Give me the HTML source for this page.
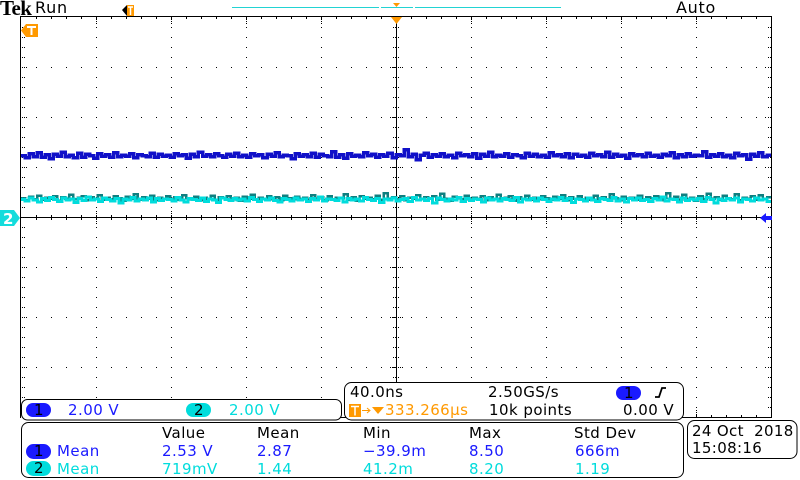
<!DOCTYPE html>
<html><head><meta charset="utf-8"><title>Oscilloscope capture</title>
<style>
html,body{margin:0;padding:0;background:#fff}
#scope{display:block}
text{font-family:"DejaVu Sans","Liberation Sans",sans-serif;font-size:15px;letter-spacing:.45px}
.k{fill:#000}.b{fill:#1a1aff}.c{fill:#00dcdc}.o{fill:#ff9900}
.p{fill:none;stroke:#000;stroke-width:1}
</style></head><body>
<svg id="scope" width="800" height="480" viewBox="0 0 800 480" xmlns="http://www.w3.org/2000/svg">
<g id="grid" shape-rendering="crispEdges"></g>
<g id="traces" shape-rendering="crispEdges"></g>
<g shape-rendering="crispEdges">
<rect x="20" y="16" width="752" height="1" fill="#000"/>
<rect x="20" y="16" width="1" height="402" fill="#000"/>
<rect x="771" y="16" width="1" height="402" fill="#000"/>
<rect x="340" y="417" width="432" height="1" fill="#000"/>
</g>
<text x="0" y="15" style="font-family:'Liberation Serif',serif;font-weight:bold;font-size:21px;letter-spacing:-.6px" class="k">Tek</text>
<text x="35" y="13" class="k" style="font-size:16px;letter-spacing:.7px">Run</text>
<text x="676" y="13" class="k" style="font-size:16px;letter-spacing:.7px">Auto</text>
<g shape-rendering="crispEdges">
<rect x="232" y="7" width="147" height="1" fill="#22d3d3"/>
<rect x="381" y="7" width="32" height="1" fill="#22d3d3"/>
<rect x="415" y="7" width="146" height="1" fill="#22d3d3"/>
</g>
<polygon points="393,3 400,3 396.5,7" fill="#ff9900"/>
<polygon points="391,17 402,17 396.5,24" fill="#ff9900"/>
<g>
<polygon points="122,10 127,5 129,5 129,16 127,16" fill="#000"/>
<rect x="127" y="5" width="7" height="11" fill="#ff9900"/>
<path d="M128 7h5M130.500 7v8" stroke="#fff" stroke-width="1.500" fill="none"/>
</g>
<g>
<polygon points="21,30.500 26,24 38,24 38,37 26,37" fill="#ff9900"/>
<path d="M27 27h9M31.500 27v8" stroke="#fff" stroke-width="2" fill="none"/>
</g>
<g>
<polygon points="0,210 14,210 20,218 14,226 0,226" fill="#14dcdc"/>
<text x="3" y="224" style="font-size:15px;font-weight:bold;fill:#fff">2</text>
</g>
<polygon points="760,218 766,213 766,216 772,216 772,220 766,220 766,223" fill="#1a1aff"/>

<rect class="p" x="21.500" y="399.500" width="320" height="20.500" rx="6" style="fill:#fff"/>
<rect x="26" y="403" width="25" height="14" rx="7" fill="#1a1aff"/>
<text x="34" y="415" class="k">1</text>
<text x="68" y="415" class="b">2.00 V</text>
<rect x="186" y="403" width="25" height="14" rx="7" fill="#00dcdc"/>
<text x="194" y="415" class="k">2</text>
<text x="229" y="415" class="c">2.00 V</text>

<rect class="p" x="344.500" y="382.500" width="339" height="37.500" rx="7" style="fill:#fff"/>
<text x="350" y="397" class="k">40.0ns</text>
<text x="488" y="397" class="k">2.50GS/s</text>
<rect x="616" y="386" width="25" height="14" rx="7" fill="#1a1aff"/>
<text x="624" y="398" class="k">1</text>
<path d="M655 397h4l3-9h4" fill="none" stroke="#000" stroke-width="1.800"/>
<rect x="349" y="404" width="12" height="13" fill="#ff9900"/>
<path d="M351 406.500h8M355 406.500v9" stroke="#fff" stroke-width="1.500" fill="none"/>
<path d="M362 410.500h7M367 408l3 2.500-3 2.500" stroke="#ff9900" stroke-width="1" fill="none"/>
<polygon points="372,407 384,407 378,414" fill="#ff9900"/>
<text x="385" y="415" class="o">333.266µs</text>
<text x="489" y="415" class="k">10k points</text>
<text x="623" y="415" class="k">0.00 V</text>

<rect class="p" x="21.500" y="422.500" width="662" height="55" rx="7" style="fill:#fff"/>
<text x="162" y="438" class="k">Value</text>
<text x="257" y="438" class="k">Mean</text>
<text x="363" y="438" class="k">Min</text>
<text x="469" y="438" class="k">Max</text>
<text x="574" y="438" class="k">Std Dev</text>
<rect x="26" y="444" width="25" height="15" rx="7.500" fill="#1a1aff"/>
<text x="34" y="456" class="k">1</text>
<text x="57" y="456" class="b">Mean</text>
<text x="162" y="456" class="b">2.53 V</text>
<text x="257" y="456" class="b">2.87</text>
<text x="363" y="456" class="b">−39.9m</text>
<text x="469" y="456" class="b">8.50</text>
<text x="575" y="456" class="b">666m</text>
<rect x="26" y="461" width="25" height="15" rx="7.500" fill="#00dcdc"/>
<text x="34" y="473" class="k">2</text>
<text x="57" y="474" class="c">Mean</text>
<text x="162" y="474" class="c">719mV</text>
<text x="257" y="474" class="c">1.44</text>
<text x="363" y="474" class="c">41.2m</text>
<text x="469" y="474" class="c">8.20</text>
<text x="575" y="474" class="c">1.19</text>

<rect class="p" x="687.500" y="420.500" width="109.500" height="38" rx="7" style="fill:#fff"/>
<text x="692" y="436" xml:space="preserve" class="k" style="letter-spacing:.35px">24 Oct  2018</text>
<text x="692" y="453" class="k" style="letter-spacing:.35px">15:08:16</text>
</svg>
<script>
const ch1Volts=[2.46,2.38,2.54,2.42,2.58,2.40,2.50,2.34,2.52,2.44,2.60,2.42,2.48,2.38,2.56,2.40,2.52,2.46,2.36,2.54,2.44,2.50,2.40,2.58,2.42,2.48,2.44,2.54,2.38,2.50,2.46,2.42,2.56,2.40,2.52,2.44,2.48,2.40,2.54,2.46,2.50,2.36,2.52,2.42,2.60,2.44,2.50,2.42,2.54,2.46,2.40,2.52,2.44,2.56,2.42,2.48,2.40,2.54,2.46,2.50,2.38,2.52,2.44,2.58,2.42,2.48,2.46,2.34,2.54,2.44,2.50,2.42,2.56,2.40,2.52,2.46,2.42,2.62,2.40,2.50,2.36,2.54,2.44,2.48,2.42,2.58,2.46,2.52,2.40,2.50,2.44,2.56,2.38,2.50,2.46,2.70,2.42,2.52,2.30,2.48,2.56,2.40,2.50,2.44,2.54,2.42,2.48,2.38,2.56,2.46,2.50,2.42,2.54,2.36,2.52,2.44,2.60,2.42,2.48,2.44,2.54,2.40,2.50,2.46,2.38,2.56,2.44,2.52,2.42,2.48,2.40,2.58,2.46,2.50,2.42,2.54,2.38,2.52,2.44,2.48,2.40,2.56,2.46,2.50,2.42,2.60,2.40,2.52,2.44,2.48,2.36,2.54,2.46,2.50,2.42,2.56,2.44,2.48,2.40,2.52,2.46,2.58,2.38,2.50,2.42,2.54,2.44,2.48,2.46,2.62,2.40,2.50,2.44,2.54,2.42,2.48,2.38,2.56,2.46,2.50,2.32,2.52,2.44,2.58,2.42,2.48];
const ch2DarkVolts=[0.76,0.68,0.82,0.72,0.86,0.70,0.78,0.74,0.84,0.66,0.80,0.74,0.90,0.72,0.78,0.84,0.68,0.80,0.74,0.88,0.70,0.78,0.72,0.84,0.76,0.66,0.82,0.74,0.92,0.70,0.80,0.74,0.86,0.68,0.78,0.72,0.84,0.74,0.80,0.70,0.88,0.76,0.72,0.82,0.68,0.78,0.74,0.86,0.70,0.80,0.76,0.84,0.72,0.78,0.66,0.82,0.74,0.90,0.70,0.78,0.74,0.84,0.72,0.80,0.68,0.86,0.76,0.72,0.82,0.74,0.78,0.70,0.88,0.74,0.80,0.68,0.84,0.72,0.78,0.76,0.92,0.70,0.80,0.66,0.84,0.74,0.78,0.72,0.86,0.70,0.96,0.74,0.80,0.72,0.84,0.68,0.78,0.74,0.88,0.72,0.80,0.76,0.84,0.70,0.94,0.74,0.66,0.82,0.76,0.72,0.86,0.70,0.78,0.74,0.84,0.68,0.80,0.74,0.90,0.72,0.78,0.84,0.66,0.80,0.74,0.86,0.70,0.78,0.72,0.84,0.76,0.70,0.82,0.74,0.88,0.68,0.80,0.74,0.84,0.72,0.78,0.70,0.86,0.74,0.80,0.72,0.92,0.76,0.68,0.82,0.74,0.78,0.70,0.86,0.72,0.80,0.76,0.84,0.68,0.78,0.96,0.74,0.82,0.70,0.90,0.74,0.78,0.66,0.84,0.72,0.94,0.74,0.80,0.70,0.86,0.76,0.72,0.92,0.68,0.78,0.74,0.84,0.70,0.88,0.74,0.80];
const ch2CyanVolts=[0.70,0.64,0.76,0.68,0.60,0.74,0.66,0.78,0.70,0.62,0.76,0.68,0.72,0.58,0.74,0.66,0.80,0.68,0.72,0.62,0.76,0.70,0.64,0.74,0.56,0.72,0.68,0.78,0.64,0.72,0.68,0.76,0.60,0.74,0.66,0.72,0.70,0.64,0.78,0.68,0.60,0.74,0.70,0.66,0.76,0.62,0.72,0.68,0.58,0.76,0.70,0.66,0.74,0.68,0.72,0.64,0.78,0.70,0.62,0.72,0.68,0.76,0.66,0.60,0.74,0.70,0.64,0.76,0.68,0.72,0.62,0.74,0.68,0.80,0.64,0.72,0.70,0.66,0.76,0.60,0.74,0.68,0.72,0.64,0.78,0.70,0.66,0.74,0.58,0.72,0.68,0.76,0.64,0.70,0.74,0.62,0.78,0.68,0.72,0.66,0.74,0.56,0.76,0.70,0.64,0.72,0.68,0.78,0.62,0.74,0.66,0.72,0.70,0.60,0.76,0.68,0.72,0.64,0.74,0.70,0.66,0.78,0.60,0.72,0.68,0.74,0.64,0.76,0.70,0.62,0.72,0.68,0.78,0.66,0.74,0.58,0.72,0.70,0.64,0.76,0.68,0.62,0.74,0.70,0.66,0.78,0.64,0.72,0.60,0.74,0.68,0.76,0.66,0.70,0.62,0.74,0.68,0.80,0.64,0.72,0.70,0.60,0.76,0.66,0.72,0.68,0.74,0.62,0.78,0.70,0.56,0.72,0.66,0.74,0.68,0.76,0.60,0.72,0.70,0.64,0.76,0.68,0.72,0.62];
const xDivisions=[0,1,2,3,4,5,6,7,8,9,10];
const yDivisions=[-4,-3,-2,-1,0,1,2,3,4];
const NS='http://www.w3.org/2000/svg';
const PX_PER_XDIV=75,PX_PER_YDIV=50,X_CENTER=396,Y_CENTER=217,VOLTS_PER_DIV=2,X_LEFT=21,X_RIGHT=771;
function xAxis(div){return X_CENTER+(div-5)*PX_PER_XDIV;}
function yAxis(volts){return Y_CENTER-volts/VOLTS_PER_DIV*PX_PER_YDIV;}
function sampleX(i,n){return X_LEFT+i*(X_RIGHT-X_LEFT)/n;}
const grid=document.getElementById('grid');
const traces=document.getElementById('traces');
function dot(x,y,w,h){
  const r=document.createElementNS(NS,'rect');
  r.setAttribute('x',x);r.setAttribute('y',y);r.setAttribute('width',w);r.setAttribute('height',h);
  r.setAttribute('fill','#000');
  
  
  grid.appendChild(r);
}
/* horizontal dotted rows */
yDivisions.forEach(function(d){
  const y=Y_CENTER+d*PX_PER_YDIV;
  if(d===0||Math.abs(d)===4)return;
  for(let x=X_CENTER-24*15;x<X_RIGHT;x+=15){dot(x,y,1,1);}
});
/* vertical dotted columns */
xDivisions.forEach(function(d){
  const x=xAxis(d);
  if(d===5||d===0||d===10)return;
  for(let y=Y_CENTER-190;y<Y_CENTER+200;y+=10){dot(x,y,1,1);}
});
/* minor ticks on top edge, bottom edge and centre line */
for(let x=X_CENTER-24*15;x<X_RIGHT;x+=15){
  dot(x,17,1,2);dot(x,415,1,2);dot(x,215,1,5);
}
/* major dotted ticks along the edges and centre line */
xDivisions.forEach(function(d){
  const x=xAxis(d);
  if(d===0||d===10)return;
  [17,19,21,23,410,412,414,416,211,213,221,223].forEach(function(y){dot(x,y,1,1);});
});
/* left, right and centre-column minor ticks */
for(let y=Y_CENTER-190;y<Y_CENTER+200;y+=10){
  [22,24,768,770,393,395,398].forEach(function(x){dot(x,y,1,1);});
}
/* major dotted ticks along the side edges and centre column */
yDivisions.forEach(function(d){
  const y=Y_CENTER+d*PX_PER_YDIV;
  if(Math.abs(d)===4||d===0)return;
  [26,765,390,392,394,398,400,402].forEach(function(x){dot(x,y,1,1);});
});
const hCentre=document.createElementNS(NS,'rect');
hCentre.setAttribute('x',X_LEFT);hCentre.setAttribute('y',Y_CENTER);hCentre.setAttribute('width',X_RIGHT-X_LEFT);hCentre.setAttribute('height',1);hCentre.setAttribute('fill','#000');


grid.appendChild(hCentre);
const vCentre=document.createElementNS(NS,'rect');
vCentre.setAttribute('x',X_CENTER);vCentre.setAttribute('y',17);vCentre.setAttribute('width',1);vCentre.setAttribute('height',400);vCentre.setAttribute('fill','#000');


grid.appendChild(vCentre);
function makeTrace(values,color,width){
  const p=document.createElementNS(NS,'polyline');
  const n=values.length;
  const pts=[];
  values.forEach(function(v,i){
    const y=yAxis(v).toFixed(1);
    pts.push(sampleX(i,n).toFixed(1)+','+y);
    pts.push(sampleX(i+1,n).toFixed(1)+','+y);
  });
  p.setAttribute('points',pts.join(' '));
  p.setAttribute('fill','none');
  p.setAttribute('stroke',color);
  p.setAttribute('stroke-width',width);
  p.setAttribute('stroke-linejoin','miter');
  return p;
}
const t2d=makeTrace(ch2DarkVolts,'#0f7f80',2.5);


traces.appendChild(t2d);
const t2c=makeTrace(ch2CyanVolts,'#00dcdc',3);


traces.appendChild(t2c);
const t1=makeTrace(ch1Volts,'#1010c8',3.5);


traces.appendChild(t1);
</script>
</body></html>
